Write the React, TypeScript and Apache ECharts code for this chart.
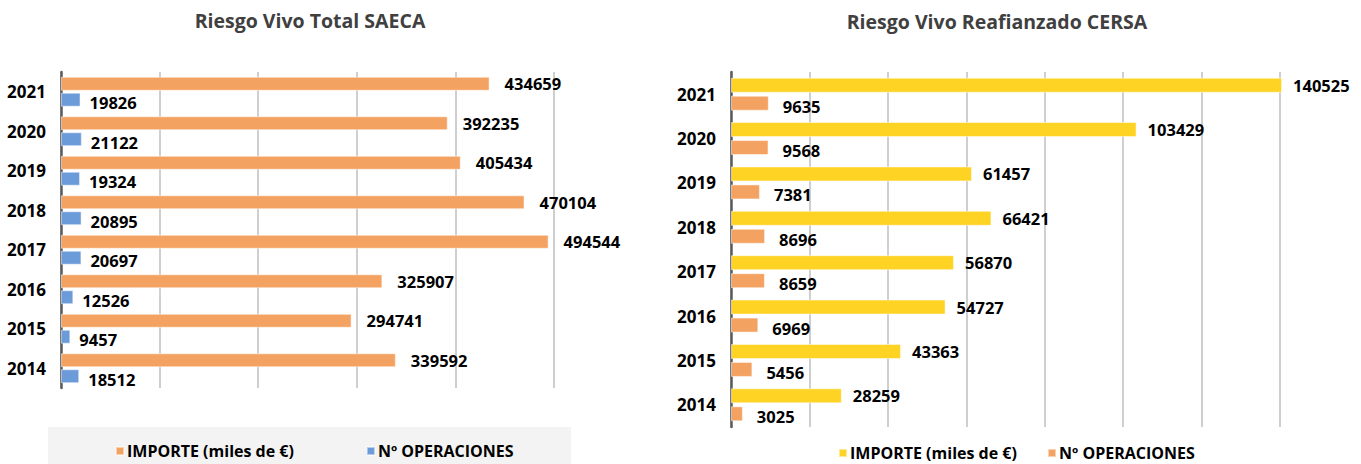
import React, { useEffect, useRef } from "react";
import * as echarts from "echarts";

const years = ["2014", "2015", "2016", "2017", "2018", "2019", "2020", "2021"];
const saecaImporte = [339592, 294741, 325907, 494544, 470104, 405434, 392235, 434659];
const saecaOperaciones = [18512, 9457, 12526, 20697, 20895, 19324, 21122, 19826];
const cersaImporte = [28259, 43363, 54727, 56870, 66421, 61457, 103429, 140525];
const cersaOperaciones = [3025, 5456, 6969, 8659, 8696, 7381, 9568, 9635];

const seriesImporte = "IMPORTE (miles de €)";
const seriesOperaciones = "Nº OPERACIONES";
const titleLeft = "Riesgo Vivo Total SAECA";
const titleRight = "Riesgo Vivo Reafianzado CERSA";

const FONT = "'Open Sans', 'Noto Sans', sans-serif";
const ORANGE = "#F4A261";
const BLUE = "#6C9BD9";
const YELLOW = "#FFD324";

export default function App() {
  const ref = useRef<HTMLDivElement>(null);
  useEffect(() => {
    if (!ref.current) return;
    const chart = echarts.init(ref.current, null, { renderer: "svg" });
    const valueLabel = (dist: number, dy: number) => ({
      show: true,
      position: "right",
      distance: dist,
      offset: [0, dy],
      color: "#000",
      fontFamily: FONT,
      fontWeight: "bold",
      fontSize: 16.5,
    });
    const catAxis = (gi: number) => ({
      type: "category",
      gridIndex: gi,
      data: years,
      axisLine: { show: true, lineStyle: { color: "#5a5a5a", width: 2.5 } },
      axisTick: { show: false },
      axisLabel: {
        color: "#000",
        fontFamily: FONT,
        fontWeight: "bold",
        fontSize: 17,
        margin: 15,
      },
    });
    const valAxis = (gi: number, max: number, interval: number) => ({
      type: "value",
      gridIndex: gi,
      min: 0,
      max,
      interval,
      axisLine: { show: false },
      axisTick: { show: false },
      axisLabel: { show: false },
      splitLine: { show: true, lineStyle: { color: "#cfcfcf", width: 2 } },
    });
    const legendText = {
      color: "#000",
      fontFamily: FONT,
      fontWeight: "bold",
      fontSize: 16,
      padding: [0, 0, 0, -2],
    };
    chart.setOption({
      animation: false,
      backgroundColor: "#fff",
      title: [
        {
          text: titleLeft,
          left: 305,
          top: 5,
          textAlign: "center",
          textStyle: { color: "#404040", fontFamily: FONT, fontWeight: "bold", fontSize: 19.5 },
        },
        {
          text: titleRight,
          left: 992,
          top: 6,
          textAlign: "center",
          textStyle: { color: "#404040", fontFamily: FONT, fontWeight: "bold", fontSize: 19.5 },
        },
      ],
      graphic: [
        {
          type: "rect",
          shape: { x: 48, y: 427, width: 523, height: 37 },
          style: { fill: "#f3f3f3" },
          z: -1,
        },
      ],
      legend: [
        {
          left: 115,
          top: 443,
          padding: 0,
          itemWidth: 8,
          itemHeight: 8,
          itemGap: 72,
          icon: "rect",
          textStyle: legendText,
          data: [
            { name: seriesImporte, itemStyle: { color: ORANGE } },
            { name: seriesOperaciones, itemStyle: { color: BLUE } },
          ],
        },
        {
          left: 838,
          top: 445,
          padding: 0,
          itemWidth: 8,
          itemHeight: 8,
          itemGap: 26,
          icon: "rect",
          textStyle: legendText,
          data: [
            { name: seriesImporte + " ", itemStyle: { color: YELLOW } },
            { name: seriesOperaciones + " ", itemStyle: { color: ORANGE } },
          ],
        },
      ],
      grid: [
        { left: 61, top: 72, width: 493, height: 316 },
        { left: 731, top: 72, width: 549, height: 355 },
      ],
      xAxis: [valAxis(0, 500000, 100000), valAxis(1, 140000, 20000)],
      yAxis: [catAxis(0), catAxis(1)],
      series: [
        {
          name: seriesImporte,
          type: "bar",
          xAxisIndex: 0,
          yAxisIndex: 0,
          data: saecaImporte,
          barWidth: 14,
          barGap: "14%",
          itemStyle: { color: ORANGE, borderColor: "rgba(255,255,255,0.5)", borderWidth: 1 },
          label: valueLabel(15, 0),
        },
        {
          name: seriesOperaciones,
          type: "bar",
          xAxisIndex: 0,
          yAxisIndex: 0,
          data: saecaOperaciones,
          barWidth: 14,
          barGap: "14%",
          itemStyle: { color: BLUE, borderColor: "rgba(255,255,255,0.5)", borderWidth: 1 },
          label: valueLabel(9, 3),
        },
        {
          name: seriesImporte + " ",
          type: "bar",
          xAxisIndex: 1,
          yAxisIndex: 1,
          data: cersaImporte,
          barWidth: 15,
          barGap: "20%",
          clip: false,
          itemStyle: { color: YELLOW, borderColor: "rgba(255,255,255,0.5)", borderWidth: 1 },
          label: valueLabel(11, 0),
        },
        {
          name: seriesOperaciones + " ",
          type: "bar",
          xAxisIndex: 1,
          yAxisIndex: 1,
          data: cersaOperaciones,
          barWidth: 15,
          barGap: "20%",
          itemStyle: { color: ORANGE, borderColor: "rgba(255,255,255,0.5)", borderWidth: 1 },
          label: valueLabel(14, 3),
        },
      ],
    });
    return () => chart.dispose();
  }, []);
  return (
    <div
      ref={ref}
      style={{ position: "absolute", left: 0, top: 0, width: 1361, height: 464 }}
    />
  );
}
